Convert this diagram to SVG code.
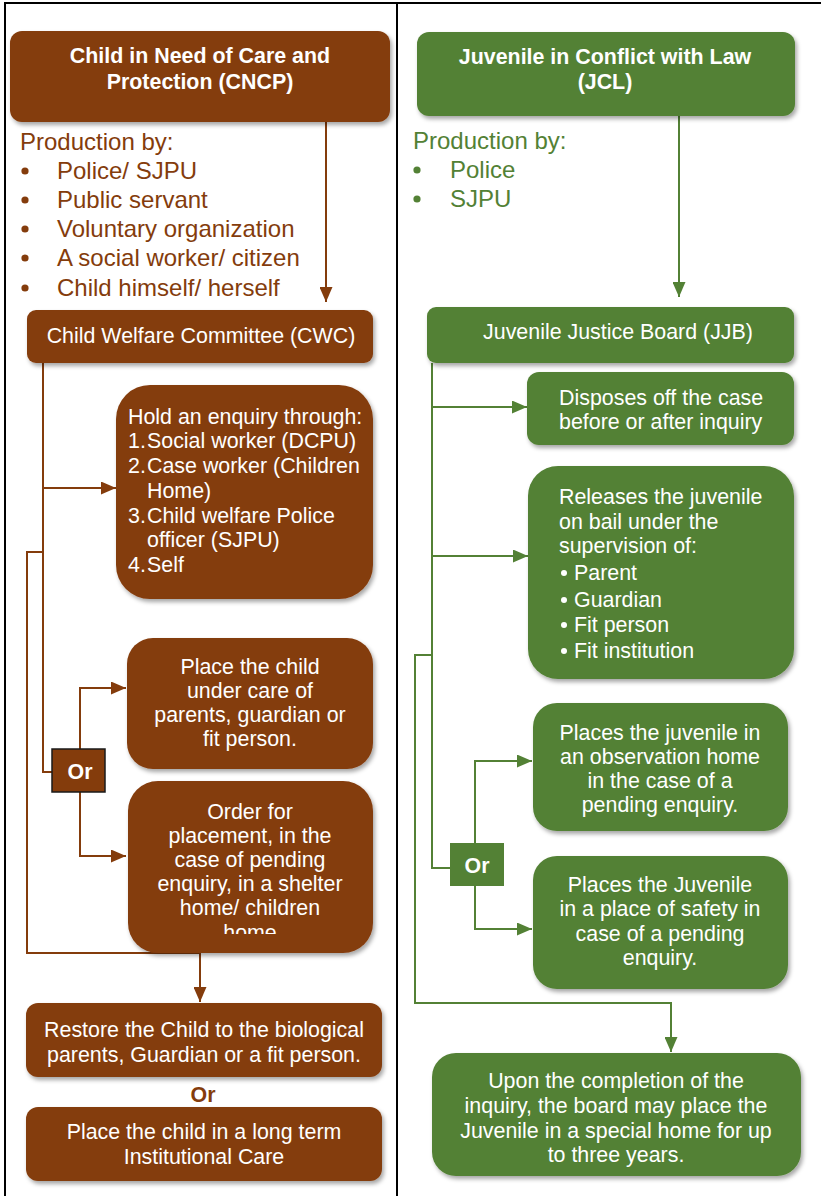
<svg xmlns="http://www.w3.org/2000/svg" width="821" height="1196" viewBox="0 0 821 1196">
<style>
.t{font-family:"Liberation Sans",Arial,sans-serif;font-size:21.4px;fill:#fff}
.b{font-weight:bold}
.c{text-anchor:middle}
.pb{font-family:"Liberation Sans",Arial,sans-serif;font-size:24px;fill:#843C0C}
.pg{font-family:"Liberation Sans",Arial,sans-serif;font-size:24px;fill:#538135}
.brown{fill:#843C0C}
.green{fill:#538135}
.lb{fill:none;stroke:#843C0C;stroke-width:2}
.lg{fill:none;stroke:#538135;stroke-width:2}
</style>
<defs>
<filter id="sh" x="-10%" y="-10%" width="125%" height="130%">
<feDropShadow dx="2" dy="3" stdDeviation="2" flood-color="#000" flood-opacity="0.35"/>
</filter>
<marker id="ab" markerUnits="userSpaceOnUse" markerWidth="15" markerHeight="13" refX="15" refY="6.5" orient="auto">
<path d="M0,0 L15,6.5 L0,13 Z" fill="#843C0C"/>
</marker>
<marker id="ag" markerUnits="userSpaceOnUse" markerWidth="15" markerHeight="13" refX="15" refY="6.5" orient="auto">
<path d="M0,0 L15,6.5 L0,13 Z" fill="#538135"/>
</marker>
<clipPath id="clipOrder"><rect x="120" y="781" width="260" height="153"/></clipPath>
</defs>
<rect width="821" height="1196" fill="#fff"/>
<g id="table" stroke="#000" stroke-width="2">
<line x1="4" y1="3" x2="821" y2="3"/>
<line x1="5" y1="2" x2="5" y2="1196"/>
<line x1="397" y1="2" x2="397" y2="1196"/>
</g>
<g id="connectors">
<path class="lb" d="M326,122 V302" marker-end="url(#ab)"/>
<path class="lb" d="M43,363 V772 H52"/>
<path class="lb" d="M43,488 H116" marker-end="url(#ab)"/>
<path class="lb" d="M43,552 H27 V953 H200 V1002" marker-end="url(#ab)"/>
<path class="lb" d="M80,749 V688 H126" marker-end="url(#ab)"/>
<path class="lb" d="M80,792 V856 H126" marker-end="url(#ab)"/>
<path class="lg" d="M679,116 V297" marker-end="url(#ag)"/>
<path class="lg" d="M432,363 V868 H450"/>
<path class="lg" d="M432,407 H527" marker-end="url(#ag)"/>
<path class="lg" d="M432,556 H528" marker-end="url(#ag)"/>
<path class="lg" d="M432,655 H415 V1003 H671 V1052" marker-end="url(#ag)"/>
<path class="lg" d="M475,843 V761 H532" marker-end="url(#ag)"/>
<path class="lg" d="M475,886 V929 H532" marker-end="url(#ag)"/>
</g>
<g id="cncp">
<rect class="brown" x="10" y="31" width="380" height="91" rx="12" filter="url(#sh)"/>
<text class="t b c" x="200" y="63">Child in Need of Care and</text>
<text class="t b c" x="200" y="89">Protection (CNCP)</text>
</g>
<g id="cncp-production">
<text class="pb" x="20" y="150">Production by:</text>
<circle class="brown" cx="25" cy="171" r="3.6"/><text class="pb" x="57" y="179">Police/ SJPU</text>
<circle class="brown" cx="25" cy="200" r="3.6"/><text class="pb" x="57" y="208">Public servant</text>
<circle class="brown" cx="25" cy="229" r="3.6"/><text class="pb" x="57" y="237">Voluntary organization</text>
<circle class="brown" cx="25" cy="258" r="3.6"/><text class="pb" x="57" y="266">A social worker/ citizen</text>
<circle class="brown" cx="25" cy="288" r="3.6"/><text class="pb" x="57" y="296">Child himself/ herself</text>
</g>
<g id="cwc">
<rect class="brown" x="27" y="310" width="346" height="53" rx="9" filter="url(#sh)"/>
<text class="t c" x="201" y="343">Child Welfare Committee (CWC)</text>
</g>
<g id="enquiry">
<rect class="brown" x="116" y="385" width="257" height="214" rx="34" filter="url(#sh)"/>
<text class="t" x="128" y="424">Hold an enquiry through:</text>
<text class="t" x="128" y="448">1.</text><text class="t" x="147" y="448">Social worker (DCPU)</text>
<text class="t" x="128" y="473">2.</text><text class="t" x="147" y="473">Case worker (Children</text>
<text class="t" x="147" y="498">Home)</text>
<text class="t" x="128" y="523">3.</text><text class="t" x="147" y="523">Child welfare Police</text>
<text class="t" x="147" y="547">officer (SJPU)</text>
<text class="t" x="128" y="572">4.</text><text class="t" x="147" y="572">Self</text>
</g>
<g id="or-left">
<rect x="52" y="749" width="53" height="43" fill="#843C0C" stroke="#1a1a1a" stroke-width="1.5"/>
<text class="t b c" x="80" y="779">Or</text>
</g>
<g id="place-care">
<rect class="brown" x="127" y="638" width="246" height="131" rx="26" filter="url(#sh)"/>
<text class="t c" x="250" y="674">Place the child</text>
<text class="t c" x="250" y="698">under care of</text>
<text class="t c" x="250" y="722">parents, guardian or</text>
<text class="t c" x="250" y="746">fit person.</text>
</g>
<g id="order-placement">
<rect class="brown" x="128" y="781" width="245" height="172" rx="30" filter="url(#sh)"/>
<g clip-path="url(#clipOrder)">
<text class="t c" x="250" y="819">Order for</text>
<text class="t c" x="250" y="843">placement, in the</text>
<text class="t c" x="250" y="867">case of pending</text>
<text class="t c" x="250" y="891">enquiry, in a shelter</text>
<text class="t c" x="250" y="915">home/ children</text>
<text class="t c" x="250" y="940">home</text>
</g>
</g>
<g id="restore">
<rect class="brown" x="26" y="1003" width="356" height="74" rx="12" filter="url(#sh)"/>
<text class="t c" x="204" y="1037">Restore the Child to the biological</text>
<text class="t c" x="204" y="1062">parents, Guardian or a fit person.</text>
</g>
<g id="or-bottom">
<text class="b c" x="203" y="1102" style="font-family:'Liberation Sans',Arial,sans-serif;font-size:21.4px;fill:#843C0C">Or</text>
</g>
<g id="long-term">
<rect class="brown" x="26" y="1107" width="356" height="74" rx="12" filter="url(#sh)"/>
<text class="t c" x="204" y="1139">Place the child in a long term</text>
<text class="t c" x="204" y="1164">Institutional Care</text>
</g>
<g id="jcl">
<rect class="green" x="417" y="32" width="378" height="84" rx="12" filter="url(#sh)"/>
<text class="t b c" x="605" y="64">Juvenile in Conflict with Law</text>
<text class="t b c" x="605" y="89">(JCL)</text>
</g>
<g id="jcl-production">
<text class="pg" x="413" y="149">Production by:</text>
<circle class="green" cx="417" cy="170" r="3.6"/><text class="pg" x="450" y="178">Police</text>
<circle class="green" cx="417" cy="199" r="3.6"/><text class="pg" x="450" y="207">SJPU</text>
</g>
<g id="jjb">
<rect class="green" x="427" y="307" width="367" height="56" rx="9" filter="url(#sh)"/>
<text class="t c" x="618" y="339">Juvenile Justice Board (JJB)</text>
</g>
<g id="disposes">
<rect class="green" x="527" y="372" width="267" height="73" rx="12" filter="url(#sh)"/>
<text class="t" x="559" y="405">Disposes off the case</text>
<text class="t" x="559" y="429">before or after inquiry</text>
</g>
<g id="releases">
<rect class="green" x="528" y="466" width="266" height="213" rx="30" filter="url(#sh)"/>
<text class="t" x="559" y="504">Releases the juvenile</text>
<text class="t" x="559" y="529">on bail under the</text>
<text class="t" x="559" y="553">supervision of:</text>
<circle cx="564" cy="573" r="3" fill="#fff"/><text class="t" x="574" y="580">Parent</text>
<circle cx="564" cy="600" r="3" fill="#fff"/><text class="t" x="574" y="607">Guardian</text>
<circle cx="564" cy="625" r="3" fill="#fff"/><text class="t" x="574" y="632">Fit person</text>
<circle cx="564" cy="651" r="3" fill="#fff"/><text class="t" x="574" y="658">Fit institution</text>
</g>
<g id="or-right">
<rect class="green" x="450" y="843" width="54" height="43"/>
<text class="t b c" x="477" y="873">Or</text>
</g>
<g id="observation">
<rect class="green" x="533" y="703" width="255" height="128" rx="24" filter="url(#sh)"/>
<text class="t c" x="660" y="740">Places the juvenile in</text>
<text class="t c" x="660" y="764">an observation home</text>
<text class="t c" x="660" y="788">in the case of a</text>
<text class="t c" x="660" y="812">pending enquiry.</text>
</g>
<g id="safety">
<rect class="green" x="533" y="856" width="255" height="133" rx="24" filter="url(#sh)"/>
<text class="t c" x="660" y="892">Places the Juvenile</text>
<text class="t c" x="660" y="916">in a place of safety in</text>
<text class="t c" x="660" y="941">case of a pending</text>
<text class="t c" x="660" y="965">enquiry.</text>
</g>
<g id="special-home">
<rect class="green" x="432" y="1053" width="369" height="123" rx="24" filter="url(#sh)"/>
<text class="t c" x="616" y="1088">Upon the completion of the</text>
<text class="t c" x="616" y="1113">inquiry, the board may place the</text>
<text class="t c" x="616" y="1138">Juvenile in a special home for up</text>
<text class="t c" x="616" y="1162">to three years.</text>
</g>
</svg>
